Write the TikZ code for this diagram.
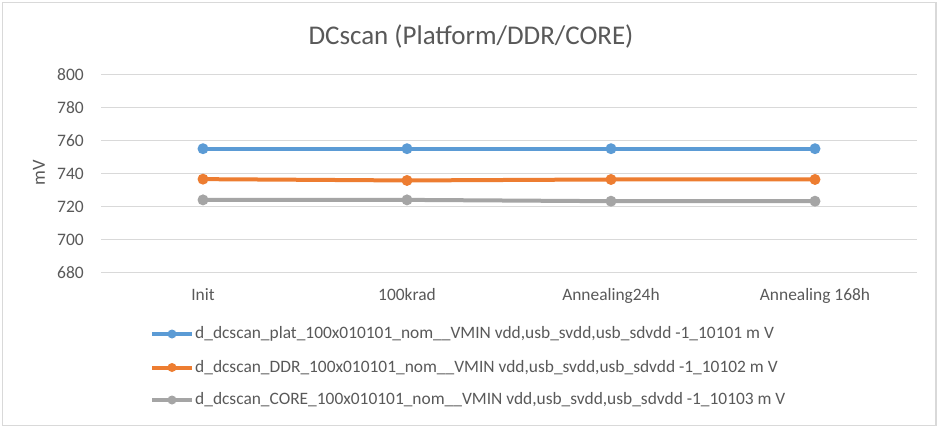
\documentclass[tikz,border=0pt]{standalone}
\usepackage{fontspec}
\setmainfont{Carlito}
\definecolor{serA}{HTML}{5B9BD5}
\definecolor{serB}{HTML}{ED7D31}
\definecolor{serC}{HTML}{A5A5A5}
\definecolor{gridc}{HTML}{D9D9D9}
\definecolor{txt}{HTML}{595959}
\begin{document}
\begin{tikzpicture}[x=1pt,y=-1pt,
  gridline/.style={draw=gridc,line width=1.3pt},
  ticklbl/.style={text=txt,font=\fontsize{17.5}{17.5}\selectfont,anchor=east,inner sep=0pt},
  catlbl/.style={text=txt,font=\fontsize{17.4}{17.4}\selectfont,anchor=base,inner sep=0pt},
  leglbl/.style={text=txt,font=\fontsize{17.4}{17.4}\selectfont,anchor=west,inner sep=0pt},
  series/.style={line width=4pt,line cap=round,line join=round},
  dot/.style={circle,inner sep=0pt,minimum size=11pt,fill=#1},
  legdot/.style={circle,inner sep=0pt,minimum size=9pt,fill=#1}]
\useasboundingbox (0,0) rectangle (938,428);
\fill[white] (0,0) rectangle (938,428);
% chart frame
\draw[gridc,line width=1.5pt] (2.5,2.5) rectangle (936,425.5);
% title
\node[text=txt,font=\fontsize{27}{27}\selectfont,anchor=base,inner sep=0pt] (title) at (471,45) {DCscan (Platform/DDR/CORE)};
% value axis: y = 272.3 - (v-680)*1.6458
\foreach \v [count=\i] in {680,700,...,800} {
  \pgfmathsetmacro{\yy}{272.3-(\v-680)*1.6458}
  \draw[gridline] (101,\yy) -- (917,\yy);
  \node[ticklbl] (tick\i) at (84,\yy) {\v};
}
\node[text=txt,font=\fontsize{18.5}{18.5}\selectfont,rotate=90,inner sep=0pt] (ylab) at (39,173) {mV};
% categories
\node[catlbl] (c1) at (203,300) {Init};
\node[catlbl] (c2) at (407,300) {100krad};
\node[catlbl] (c3) at (611,300) {Annealing24h};
\node[catlbl] (c4) at (815,300) {Annealing 168h};
% data series
\def\ypos#1{272.3-(#1-680)*1.6458}
\foreach \name/\col/\a/\b/\c/\d in {p/serC/724/724/723.2/723.2, q/serB/736.6/735.8/736.4/736.4, r/serA/755.1/755.1/755.1/755.1} {
  \coordinate (\name1) at (203,{\ypos{\a}});
  \coordinate (\name2) at (407,{\ypos{\b}});
  \coordinate (\name3) at (611,{\ypos{\c}});
  \coordinate (\name4) at (815,{\ypos{\d}});
  \draw[series,\col] (\name1) -- (\name2) -- (\name3) -- (\name4);
  \foreach \k in {1,...,4} \node[dot=\col] (m\name\k) at (\name\k) {};
}
% legend
\foreach \col/\yy/\txt [count=\j] in {
  serA/334/{d\_dcscan\_plat\_100x010101\_nom\_\_VMIN vdd,usb\_svdd,usb\_sdvdd -1\_10101 m V},
  serB/367.5/{d\_dcscan\_DDR\_100x010101\_nom\_\_VMIN vdd,usb\_svdd,usb\_sdvdd -1\_10102 m V},
  serC/400/{d\_dcscan\_CORE\_100x010101\_nom\_\_VMIN vdd,usb\_svdd,usb\_sdvdd -1\_10103 m V}} {
  \coordinate (la\j) at (152,\yy);
  \coordinate (lb\j) at (192,\yy);
  \draw[\col,line width=4pt] (la\j) -- (lb\j);
  \node[legdot=\col] (ld\j) at (172,\yy) {};
  \node[leglbl] (lt\j) at (195,\yy) {\txt};
}
\end{tikzpicture}
\end{document}
